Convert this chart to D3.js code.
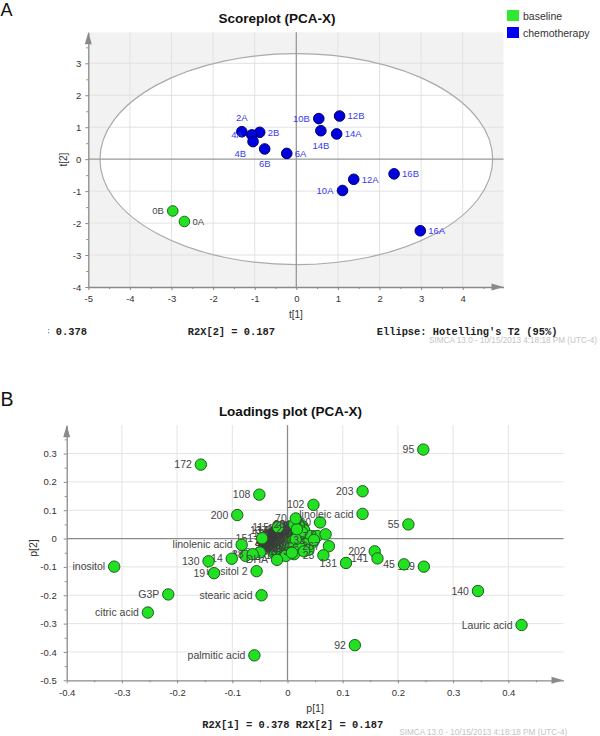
<!DOCTYPE html>
<html><head><meta charset="utf-8">
<script src="https://cdn.jsdelivr.net/npm/d3@7"></script>
<style>
body{margin:0;background:#fff}
svg{display:block}
text{font-family:"Liberation Sans",Arial,sans-serif}
.mono{font-family:"Liberation Mono","DejaVu Sans Mono",monospace;font-weight:bold}
</style>
</head><body>
<svg id="c" width="600" height="736"></svg>
<script>
// ---------------- DATA ----------------
// Score plot (PCA-X)
const scoreNames  = ["0A","0B","2A","2B","4A","4B","6A","6B","10A","10B","12A","12B","14A","14B","16A","16B"];
const scoreGroups = ["baseline","baseline","chemotherapy","chemotherapy","chemotherapy","chemotherapy","chemotherapy","chemotherapy","chemotherapy","chemotherapy","chemotherapy","chemotherapy","chemotherapy","chemotherapy","chemotherapy","chemotherapy"];
const scoreT1 = [-2.69,-2.97,-1.31,-0.88,-1.07,-1.04,-0.23,-0.76, 1.11, 0.54, 1.38, 1.04, 0.97, 0.59, 2.98, 2.35];
const scoreT2 = [-1.95,-1.62, 0.86, 0.84, 0.76, 0.55, 0.18, 0.32,-0.98, 1.27,-0.63, 1.35, 0.79, 0.89,-2.24,-0.46];
const groupNames = ["baseline","chemotherapy"];
const scoreXTicks = [-5,-4,-3,-2,-1,0,1,2,3,4];
const scoreYTicks = [-4,-3,-2,-1,0,1,2,3];
const hotellingT2Radii = [4.72, 3.30];   // 95% ellipse semi-axes (t[1], t[2])
const r2x = [0.378, 0.187];

// Loadings plot (PCA-X): dense central cluster of variables
const clusterNames = ["2","6","8","10","20","30","32","39","41","43","44","46","47","49","51","52","54","56","58","59",
 "61","63","65","66","67","69","71","72","74","76","78","79","81","82","84","85","87","88","90","93",
 "94","96","98","100","101","103","105","106","107","109","111","113","114","116","117","118","120","122","123","124",
 "126","127","128","132","134","135","137","138","139","142","144"];
const clusterP1 = [-0.025,-0.025,-0.025,-0.0225,-0.0225,-0.0225,-0.020,-0.020,-0.020,-0.0175,-0.0175,-0.0175,
 -0.015,-0.015,-0.015,-0.0125,-0.0125,-0.0125,-0.010,-0.010,-0.010,-0.0075,-0.0075,-0.0075,-0.005,-0.005,-0.005,
 -0.0025,-0.0025,-0.0025,0.000,0.000,0.000,0.0025,0.0025,0.0025,0.005,0.005,0.005,0.0075,0.0075,0.0075,
 0.010,0.010,0.010,0.0125,0.0125,0.0125,0.015,0.015,0.015,0.0175,0.0175,0.0175,0.020,0.020,0.020,0.0225,0.0225,0.0225,
 0.025,0.025,0.0275,0.0275,0.030,-0.015,-0.020,0.010,0.015,0.005,-0.008];
const clusterP2 = [-0.050,-0.034,-0.018,-0.047,-0.030,-0.013,-0.044,-0.027,-0.010,-0.041,-0.022,-0.006,
 -0.037,-0.019,-0.003,-0.033,-0.016,0.001,-0.030,-0.012,0.004,-0.026,-0.008,0.008,-0.023,-0.005,0.011,
 -0.019,-0.001,0.015,-0.016,0.002,0.019,-0.012,0.006,0.022,-0.009,0.010,0.026,-0.005,0.013,0.030,
 -0.002,0.017,0.033,0.002,0.021,0.037,0.006,0.024,0.040,0.010,0.028,0.043,0.014,0.031,0.046,0.018,0.035,0.050,
 0.022,0.038,0.026,0.043,0.030,0.020,0.030,-0.030,-0.025,-0.035,0.028];

// Loadings plot: remaining variables
const loadingNames = [
 "115","151","1","3","5","7","9","11","13","15","17","22","24","26","28","29","33","35","37","83","4","38",
 "DHA","linolenic acid","14","130","inositol 2","19","inositol","G3P","citric acid","stearic acid","palmitic acid",
 "172","108","200","70","102","60","203","linoleic acid","95","55",
 "267","23","131","202","141","129","45","140","Lauric acid","92"];
const loadingP1 = [
 -0.017,-0.046,0.021,0.027,0.042,0.054,0.069,0.045,0.012,-0.003,0.033,0.021,0.015,0.012,0.017,0.038,0.048,0.030,0.008,-0.050,-0.076,-0.063,
 -0.019,-0.083,-0.101,-0.143,-0.056,-0.133,-0.314,-0.216,-0.253,-0.047,-0.060,
 -0.157,-0.051,-0.091,0.015,0.047,0.059,0.136,0.136,0.246,0.219,
 0.075,0.065,0.106,0.158,0.163,0.247,0.211,0.345,0.424,0.122];
const loadingP2 = [
 0.040,0.001,0.044,0.021,0.009,0.009,0.015,-0.014,-0.055,-0.061,-0.020,-0.026,-0.002,0.050,0.033,-0.040,-0.005,-0.045,-0.050,-0.049,-0.061,-0.055,
 -0.075,-0.022,-0.071,-0.080,-0.115,-0.122,-0.099,-0.197,-0.261,-0.200,-0.412,
 0.261,0.155,0.083,0.071,0.119,0.057,0.167,0.087,0.314,0.050,
 -0.027,-0.059,-0.086,-0.045,-0.070,-0.099,-0.091,-0.185,-0.305,-0.376];
const loadXTicks = [-0.4,-0.3,-0.2,-0.1,0,0.1,0.2,0.3,0.4];
const loadYTicks = [-0.5,-0.4,-0.3,-0.2,-0.1,0,0.1,0.2,0.3];

// ---------------- STYLE ----------------
const fillCol   = {baseline:"#22e022", chemotherapy:"#0000dd"};
const strokeCol = {baseline:"#1b6b1b", chemotherapy:"#00006a"};
const labelCol  = {baseline:"#444444", chemotherapy:"#3a3af0"};
const legendCol = {baseline:"#2fe82f", chemotherapy:"#0000ee"};
const labelSideA = {"0A":"r","0B":"l","2A":"t","2B":"r","4A":"l","4B":"bl","6A":"r","6B":"b",
                    "10A":"l","10B":"l","12A":"r","12B":"r","14A":"r","14B":"b","16A":"r","16B":"r"};
const fmt = d => String(+d.toFixed(1));

const svg = d3.select("#c");
svg.append("rect").attr("width",600).attr("height",736).attr("fill","#fff");

function axisArrows(g, x0, x1, y0, y1){
  g.append("path").attr("d",`M${x1-12},${y0-3.5}L${x1},${y0}L${x1-12},${y0+3.5}Z`).attr("fill","#8a8a8a");
  g.append("path").attr("d",`M${x0-3.5},${y1+12}L${x0},${y1}L${x0+3.5},${y1+12}Z`).attr("fill","#8a8a8a");
}
function styleAxis(sel){
  sel.select(".domain").attr("stroke","#8a8a8a").attr("stroke-width",1.3);
  sel.selectAll(".tick line").attr("stroke","#8a8a8a");
  sel.selectAll(".tick text").attr("fill","#333").attr("font-size","9.5px").attr("font-family","Liberation Sans, Arial, sans-serif");
}

// =============== PLOT A ===============
const xA = d3.scaleLinear().domain([-5, 4.98]).range([88.3, 503.5]);
const yA = d3.scaleLinear().domain([-4, 3.97]).range([287, 32.3]);
const gA = svg.append("g");
gA.append("rect").attr("x",xA(-5)).attr("y",yA(3.97)).attr("width",xA(4.98)-xA(-5))
  .attr("height",yA(-4)-yA(3.97)).attr("fill","#f2f2f2");
gA.append("ellipse").attr("cx",xA(0)).attr("cy",yA(0))
  .attr("rx",xA(hotellingT2Radii[0])-xA(0)).attr("ry",yA(0)-yA(hotellingT2Radii[1])).attr("fill","#fff");
gA.selectAll(".gvx").data(scoreXTicks.filter(d=>d!==-5&&d!==0)).enter().append("line")
  .attr("x1",d=>xA(d)).attr("x2",d=>xA(d)).attr("y1",yA(3.97)).attr("y2",yA(-4)).attr("stroke","#e2e2e2");
gA.selectAll(".gvy").data(scoreYTicks.filter(d=>d!==-4&&d!==0)).enter().append("line")
  .attr("y1",d=>yA(d)).attr("y2",d=>yA(d)).attr("x1",xA(-5)).attr("x2",xA(4.98)).attr("stroke","#e2e2e2");
gA.append("ellipse").attr("cx",xA(0)).attr("cy",yA(0))
  .attr("rx",xA(hotellingT2Radii[0])-xA(0)).attr("ry",yA(0)-yA(hotellingT2Radii[1]))
  .attr("fill","none").attr("stroke","#aaaaaa").attr("stroke-width",1.2);
gA.append("line").attr("x1",xA(-5)).attr("x2",xA(4.98)).attr("y1",yA(0)).attr("y2",yA(0)).attr("stroke","#999").attr("stroke-width",1.3);
gA.append("line").attr("x1",xA(0)).attr("x2",xA(0)).attr("y1",yA(3.97)).attr("y2",yA(-4)).attr("stroke","#999").attr("stroke-width",1.3);

const axAx = gA.append("g").attr("transform",`translate(0,${yA(-4)})`)
  .call(d3.axisBottom(xA).tickValues(scoreXTicks).tickFormat(fmt).tickSize(3).tickSizeOuter(0).tickPadding(5));
styleAxis(axAx);
const axAxm = gA.append("g").attr("transform",`translate(0,${yA(-4)})`)
  .call(d3.axisBottom(xA).tickValues(scoreXTicks.map(d=>d+0.5)).tickFormat("").tickSize(2).tickSizeOuter(0));
styleAxis(axAxm); axAxm.select(".domain").remove();
const axAy = gA.append("g").attr("transform",`translate(${xA(-5)},0)`)
  .call(d3.axisLeft(yA).tickValues(scoreYTicks).tickFormat(fmt).tickSize(3).tickSizeOuter(0).tickPadding(4));
styleAxis(axAy);
const axAym = gA.append("g").attr("transform",`translate(${xA(-5)},0)`)
  .call(d3.axisLeft(yA).tickValues(scoreYTicks.map(d=>d+0.5)).tickFormat("").tickSize(2).tickSizeOuter(0));
styleAxis(axAym); axAym.select(".domain").remove();
axisArrows(gA, xA(-5), xA(4.98), yA(-4), yA(3.97));

gA.append("text").attr("x",(xA(-5)+xA(4.98))/2).attr("y",318).attr("text-anchor","middle")
  .attr("font-size","10px").attr("fill","#333").text("t[1]");
gA.append("text").attr("transform",`translate(66.5,${(yA(-4)+yA(3.97))/2}) rotate(-90)`).attr("text-anchor","middle")
  .attr("font-size","10px").attr("fill","#333").text("t[2]");

const scoreData = scoreNames.map((n,i)=>({name:n, group:scoreGroups[i], t1:scoreT1[i], t2:scoreT2[i]}));
const sg = gA.selectAll(".sp").data(scoreData).enter().append("g");
sg.append("text").each(function(d){
  const x = xA(d.t1), y = yA(d.t2), s = labelSideA[d.name];
  const t = d3.select(this).attr("font-size","9.5px").attr("fill",labelCol[d.group]).text(d.name);
  if(s==="r") t.attr("x",x+8).attr("y",y+3.3).attr("text-anchor","start");
  else if(s==="l") t.attr("x",x-9).attr("y",y+3.3).attr("text-anchor","end");
  else if(s==="t") t.attr("x",x).attr("y",y-10.5).attr("text-anchor","middle");
  else if(s==="b") t.attr("x",x).attr("y",y+18).attr("text-anchor","middle");
  else if(s==="bl") t.attr("x",x-7).attr("y",y+15.5).attr("text-anchor","end");
});
sg.append("circle").attr("cx",d=>xA(d.t1)).attr("cy",d=>yA(d.t2)).attr("r",5.3)
  .attr("fill",d=>fillCol[d.group]).attr("stroke",d=>strokeCol[d.group]).attr("stroke-width",1);

svg.append("text").attr("x",277).attr("y",22.7).attr("text-anchor","middle").attr("font-size","13.5px")
  .attr("font-weight","bold").attr("fill","#111").text("Scoreplot (PCA-X)");
svg.append("text").attr("x",0.5).attr("y",16).attr("font-size","18px").attr("fill","#111").text("A");

groupNames.forEach((g,i)=>{
  svg.append("rect").attr("x",507).attr("y",10+i*17).attr("width",12).attr("height",11).attr("fill",legendCol[g]);
  svg.append("text").attr("x",523).attr("y",19.5+i*17).attr("font-size","10.5px").attr("fill","#333").text(g);
});

svg.append("clipPath").attr("id","clipR").append("rect").attr("x",48.5).attr("y",300).attr("width",200).attr("height",50);
svg.append("text").attr("class","mono").attr("clip-path","url(#clipR)").attr("x",87).attr("y",335)
  .attr("text-anchor","end").attr("font-size","10.4px").attr("fill","#222").text(`R2X[1] = ${r2x[0]}`);
svg.append("text").attr("class","mono").attr("x",187.7).attr("y",335).attr("font-size","10.4px").attr("fill","#222")
  .text(`R2X[2] = ${r2x[1]}`);
svg.append("text").attr("class","mono").attr("x",376.7).attr("y",335).attr("font-size","10.4px").attr("fill","#222")
  .text("Ellipse: Hotelling's T2 (95%)");
svg.append("text").attr("x",429).attr("y",342.5).attr("font-size","8.2px").attr("fill","#c4c4c4")
  .text("SIMCA 13.0 - 10/15/2013 4:18:18 PM (UTC-4)");

// =============== PLOT B ===============
const xB = d3.scaleLinear().domain([-0.4, 0.5]).range([66.7, 563.5]);
const yB = d3.scaleLinear().domain([-0.5, 0.4]).range([680.3, 425.2]);
const gB = svg.append("g");
gB.selectAll(".gvx").data(loadXTicks.filter(d=>d!==-0.4&&d!==0)).enter().append("line")
  .attr("x1",d=>xB(d)).attr("x2",d=>xB(d)).attr("y1",yB(0.4)).attr("y2",yB(-0.5)).attr("stroke","#e4e4e4");
gB.selectAll(".gvy").data(loadYTicks.filter(d=>d!==-0.5&&d!==0)).enter().append("line")
  .attr("y1",d=>yB(d)).attr("y2",d=>yB(d)).attr("x1",xB(-0.4)).attr("x2",xB(0.5)).attr("stroke","#e4e4e4");
gB.append("line").attr("x1",xB(-0.4)).attr("x2",xB(0.5)).attr("y1",yB(0)).attr("y2",yB(0)).attr("stroke","#8a8a8a").attr("stroke-width",1.3);
gB.append("line").attr("x1",xB(0)).attr("x2",xB(0)).attr("y1",yB(0.4)).attr("y2",yB(-0.5)).attr("stroke","#8a8a8a").attr("stroke-width",1.3);

const axBx = gB.append("g").attr("transform",`translate(0,${yB(-0.5)})`)
  .call(d3.axisBottom(xB).tickValues(loadXTicks).tickFormat(fmt).tickSize(3).tickSizeOuter(0).tickPadding(6));
styleAxis(axBx);
const axBxm = gB.append("g").attr("transform",`translate(0,${yB(-0.5)})`)
  .call(d3.axisBottom(xB).tickValues(loadXTicks.map(d=>d+0.05)).tickFormat("").tickSize(2).tickSizeOuter(0));
styleAxis(axBxm); axBxm.select(".domain").remove();
const axBy = gB.append("g").attr("transform",`translate(${xB(-0.4)},0)`)
  .call(d3.axisLeft(yB).tickValues(loadYTicks).tickFormat(fmt).tickSize(3).tickSizeOuter(0).tickPadding(7));
styleAxis(axBy);
const axBym = gB.append("g").attr("transform",`translate(${xB(-0.4)},0)`)
  .call(d3.axisLeft(yB).tickValues(loadYTicks.map(d=>d+0.05)).tickFormat("").tickSize(2).tickSizeOuter(0));
styleAxis(axBym); axBym.select(".domain").remove();
axisArrows(gB, xB(-0.4), xB(0.5), yB(-0.5), yB(0.4));

gB.append("text").attr("x",(xB(-0.4)+xB(0.5))/2).attr("y",711.5).attr("text-anchor","middle")
  .attr("font-size","10.5px").attr("fill","#333").text("p[1]");
gB.append("text").attr("transform",`translate(36.5,548) rotate(-90)`).attr("text-anchor","middle")
  .attr("font-size","10.5px").attr("fill","#333").text("p[2]");

// central cluster: points first, then their labels on top
const clusterData = clusterNames.map((n,i)=>({name:n, p1:clusterP1[i], p2:clusterP2[i]}));
const cg = gB.append("g");
cg.selectAll("circle").data(clusterData).enter().append("circle")
  .attr("cx",d=>xB(d.p1)).attr("cy",d=>yB(d.p2)).attr("r",5.7)
  .attr("fill","#22e022").attr("stroke","#1b5e1b").attr("stroke-width",1);
cg.selectAll("text").data(clusterData).enter().append("text")
  .attr("x",d=>xB(d.p1)-9).attr("y",d=>yB(d.p2)+3.6).attr("text-anchor","end")
  .attr("font-size","10.5px").attr("fill","#3a3a3a").text(d=>d.name);

// other variables: label then point, in order
const loadData = loadingNames.map((n,i)=>({name:n, p1:loadingP1[i], p2:loadingP2[i]}));
const lg = gB.selectAll(".lp").data(loadData).enter().append("g");
lg.append("text").attr("x",d=>xB(d.p1)-9).attr("y",d=>yB(d.p2)+3.6).attr("text-anchor","end")
  .attr("font-size","10.5px").attr("fill","#454545").text(d=>d.name);
lg.append("circle").attr("cx",d=>xB(d.p1)).attr("cy",d=>yB(d.p2)).attr("r",5.7)
  .attr("fill","#22e022").attr("stroke","#1b5e1b").attr("stroke-width",1);

svg.append("text").attr("x",290.5).attr("y",416).attr("text-anchor","middle").attr("font-size","13.5px")
  .attr("font-weight","bold").attr("fill","#111").text("Loadings plot (PCA-X)");
svg.append("text").attr("x",0.5).attr("y",406).attr("font-size","19.5px").attr("fill","#111").text("B");

svg.append("text").attr("class","mono").attr("x",202.3).attr("y",728.3).attr("font-size","10.4px").attr("fill","#222")
  .text(`R2X[1] = ${r2x[0]} R2X[2] = ${r2x[1]}`);
svg.append("text").attr("x",399.3).attr("y",735).attr("font-size","8.2px").attr("fill","#c4c4c4")
  .text("SIMCA 13.0 - 10/15/2013 4:18:18 PM (UTC-4)");
</script>
</body></html>
